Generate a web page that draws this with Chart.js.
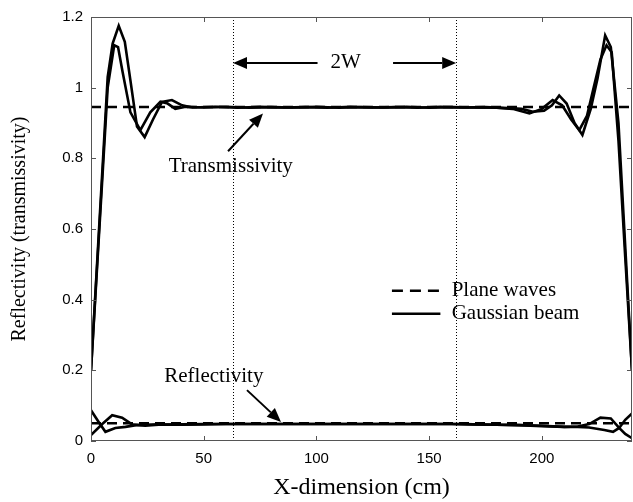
<!DOCTYPE html>
<html>
<head>
<meta charset="utf-8">
<script src="https://cdn.jsdelivr.net/npm/chart.js@4.4.1/dist/chart.umd.min.js"></script>
<style>
  html, body { margin: 0; padding: 0; background: #fff; }
</style>
</head>
<body>
<canvas id="chart" width="633" height="502"></canvas>
<script>
// Gaussian beam, transmissivity (two beams)
const transAX = [0, 7.4, 9.6, 12.3, 15, 17.5, 20.4, 23.8, 27.5, 31.5, 35.9, 40.4, 45, 55, 65, 75, 85, 95, 105, 115, 125, 135, 145, 155, 165, 175, 185, 191, 196, 201, 204.5, 207.7, 211, 214.5, 218, 221.7, 224.7, 228.1, 230.6, 234, 237, 240];
const transAY = [0.2, 1.03, 1.125, 1.175, 1.13, 1.02, 0.89, 0.86, 0.91, 0.96, 0.965, 0.95, 0.944, 0.946, 0.943, 0.946, 0.944, 0.945, 0.943, 0.946, 0.944, 0.945, 0.943, 0.946, 0.944, 0.945, 0.942, 0.94, 0.932, 0.935, 0.95, 0.978, 0.955, 0.9, 0.866, 0.94, 1.026, 1.148, 1.115, 0.9, 0.55, 0.2];
const transBX = [0, 7.4, 10.3, 12, 14, 17.5, 21.9, 26.3, 30.8, 34, 37.4, 42, 50, 60, 70, 80, 90, 100, 110, 120, 130, 140, 150, 160, 170, 180, 187, 194.5, 200, 204.8, 209, 213, 216.6, 220, 223, 226, 228.7, 231, 234, 237, 240];
const transBY = [0.2, 1.0, 1.12, 1.115, 1.045, 0.93, 0.88, 0.93, 0.96, 0.955, 0.94, 0.946, 0.944, 0.946, 0.943, 0.945, 0.944, 0.946, 0.943, 0.945, 0.944, 0.946, 0.943, 0.945, 0.944, 0.943, 0.94, 0.927, 0.94, 0.965, 0.95, 0.91, 0.88, 0.92, 1.0, 1.08, 1.12, 1.1, 0.85, 0.52, 0.2];

// Gaussian beam, reflectivity (two beams)
const reflAX = [0, 3.4, 6.4, 10.8, 15.3, 20, 30, 40, 50, 60, 70, 80, 90, 100, 110, 120, 130, 140, 150, 160, 170, 180, 190, 200, 210, 216, 221, 226, 230.6, 234.3, 237, 240];
const reflAY = [0.087, 0.054, 0.026, 0.037, 0.04, 0.045, 0.047, 0.046, 0.047, 0.048, 0.048, 0.048, 0.048, 0.048, 0.048, 0.048, 0.048, 0.048, 0.048, 0.048, 0.047, 0.046, 0.045, 0.042, 0.04, 0.041, 0.048, 0.066, 0.064, 0.037, 0.02, 0.008];
const reflBX = [0, 5, 9.4, 13.8, 18.2, 24, 30, 40, 50, 60, 70, 80, 90, 100, 110, 120, 130, 140, 150, 160, 170, 180, 190, 200, 210, 216, 221, 227.7, 231.6, 234.3, 237, 240];
const reflBY = [0.017, 0.048, 0.073, 0.066, 0.047, 0.043, 0.046, 0.047, 0.048, 0.048, 0.048, 0.048, 0.048, 0.048, 0.048, 0.048, 0.048, 0.048, 0.048, 0.048, 0.047, 0.046, 0.045, 0.043, 0.04, 0.04, 0.038, 0.031, 0.026, 0.037, 0.06, 0.078];

// Plane waves
const planeX = [0, 240];
const planeTransY = [0.945, 0.945];
const planeReflY = [0.05, 0.05];

// beam edges (2W)
const edgeX = [63, 162];

const xTicks = [0, 50, 100, 150, 200];
const yTicks = [0, 0.2, 0.4, 0.6, 0.8, 1, 1.2];

const legendLabels = ["Plane waves", "Gaussian beam"];

function pts(xs, ys) {
  return xs.map((x, i) => ({ x: x, y: ys[i] }));
}

const serif = '"Liberation Serif", "Times New Roman", serif';
const sans = '"Liberation Sans", Arial, sans-serif';

function drawArrow(ctx, x1, y1, x2, y2) {
  const ang = Math.atan2(y2 - y1, x2 - x1);
  const len = 14, half = 6;
  const bx = x2 - len * Math.cos(ang), by = y2 - len * Math.sin(ang);
  ctx.beginPath();
  ctx.moveTo(x1, y1);
  ctx.lineTo(bx, by);
  ctx.stroke();
  ctx.beginPath();
  ctx.moveTo(x2, y2);
  ctx.lineTo(bx + half * Math.sin(ang), by - half * Math.cos(ang));
  ctx.lineTo(bx - half * Math.sin(ang), by + half * Math.cos(ang));
  ctx.closePath();
  ctx.fill();
}

const overlay = {
  id: 'overlay',
  beforeDatasetsDraw(chart) {
    const { ctx, chartArea: a, scales: { x } } = chart;
    ctx.save();
    ctx.strokeStyle = '#000';
    ctx.lineWidth = 1;
    ctx.setLineDash([1, 2]);
    edgeX.forEach(v => {
      const px = Math.round(x.getPixelForValue(v)) + 0.5;
      ctx.beginPath();
      ctx.moveTo(px, a.top);
      ctx.lineTo(px, a.bottom);
      ctx.stroke();
    });
    ctx.restore();
  },
  afterDatasetsDraw(chart) {
    const { ctx, chartArea: a, scales: { x, y } } = chart;
    ctx.save();
    // axes box and inward ticks
    ctx.strokeStyle = '#555';
    ctx.lineWidth = 1;
    ctx.strokeRect(a.left + 0.5, a.top + 0.5, a.right - a.left - 1, a.bottom - a.top - 1);
    ctx.beginPath();
    xTicks.forEach(v => {
      const px = Math.round(x.getPixelForValue(v)) + 0.5;
      ctx.moveTo(px, a.bottom); ctx.lineTo(px, a.bottom - 5);
      ctx.moveTo(px, a.top); ctx.lineTo(px, a.top + 5);
    });
    yTicks.forEach(v => {
      const py = Math.round(y.getPixelForValue(v)) + 0.5;
      ctx.moveTo(a.left, py); ctx.lineTo(a.left + 5, py);
      ctx.moveTo(a.right, py); ctx.lineTo(a.right - 5, py);
    });
    ctx.stroke();

    // annotations
    ctx.strokeStyle = '#000';
    ctx.fillStyle = '#000';
    ctx.lineWidth = 2;
    ctx.font = '21px ' + serif;
    ctx.textAlign = 'center';
    ctx.textBaseline = 'middle';
    const X = v => x.getPixelForValue(v);
    const Y = v => y.getPixelForValue(v);

    ctx.fillText('2W', X(113), Y(1.07));
    drawArrow(ctx, X(100.5), Y(1.07), X(63), Y(1.07));
    drawArrow(ctx, X(134), Y(1.07), X(162), Y(1.07));

    ctx.fillText('Transmissivity', X(62), Y(0.777));
    drawArrow(ctx, X(60.8), Y(0.82), X(76.3), Y(0.927));

    ctx.fillText('Reflectivity', X(54.5), Y(0.183));
    drawArrow(ctx, X(69.2), Y(0.144), X(84.3), Y(0.054));

    // legend (no frame)
    ctx.textAlign = 'left';
    ctx.lineWidth = 2.5;
    ctx.setLineDash([11, 7]);
    ctx.beginPath();
    ctx.moveTo(X(133.5), Y(0.425)); ctx.lineTo(X(155), Y(0.425));
    ctx.stroke();
    ctx.setLineDash([]);
    ctx.beginPath();
    ctx.moveTo(X(133.5), Y(0.36)); ctx.lineTo(X(155), Y(0.36));
    ctx.stroke();
    ctx.fillText(legendLabels[0], X(160), Y(0.425));
    ctx.fillText(legendLabels[1], X(160), Y(0.36));
    ctx.restore();
  }
};

const solid = { borderColor: '#000', borderWidth: 2.6, pointRadius: 0, showLine: true, fill: false };
const dashed = { borderColor: '#000', borderWidth: 2.5, pointRadius: 0, showLine: true, fill: false, borderDash: [10, 6] };

Chart.defaults.color = '#000';

new Chart(document.getElementById('chart'), {
  type: 'scatter',
  data: {
    datasets: [
      { label: 'Plane waves', data: pts(planeX, planeTransY), ...dashed },
      { label: 'Plane waves R', data: pts(planeX, planeReflY), ...dashed },
      { label: 'Gaussian beam', data: pts(transAX, transAY), ...solid },
      { label: 'Gaussian beam 2', data: pts(transBX, transBY), ...solid },
      { label: 'Gaussian beam R', data: pts(reflAX, reflAY), ...solid },
      { label: 'Gaussian beam R2', data: pts(reflBX, reflBY), ...solid }
    ]
  },
  options: {
    responsive: false,
    animation: false,
    layout: { padding: { top: 15, right: 1, left: 0, bottom: 0 } },
    plugins: { legend: { display: false }, tooltip: { enabled: false } },
    scales: {
      x: {
        type: 'linear',
        min: 0,
        max: 240,
        afterBuildTicks: s => { s.ticks = xTicks.map(v => ({ value: v })); },
        afterFit: s => { s.height = 61; },
        grid: { display: false, drawTicks: false },
        border: { display: false },
        ticks: { padding: 9, font: { family: sans, size: 15 }, color: '#000', maxRotation: 0, callback: v => String(v) },
        title: { display: true, text: 'X-dimension (cm)', font: { family: serif, size: 24 }, color: '#000', padding: { top: 0, bottom: 0 } }
      },
      y: {
        min: 0,
        max: 1.2,
        afterBuildTicks: s => { s.ticks = yTicks.map(v => ({ value: v })); },
        afterFit: s => { s.width = 91; },
        grid: { display: false, drawTicks: false },
        border: { display: false },
        ticks: { padding: 8, font: { family: sans, size: 15 }, color: '#000', callback: v => String(v) },
        title: { display: true, text: 'Reflectivity (transmissivity)', font: { family: serif, size: 20 }, color: '#000', padding: { top: 8, bottom: 0 } }
      }
    }
  },
  plugins: [overlay]
});
</script>
</body>
</html>
